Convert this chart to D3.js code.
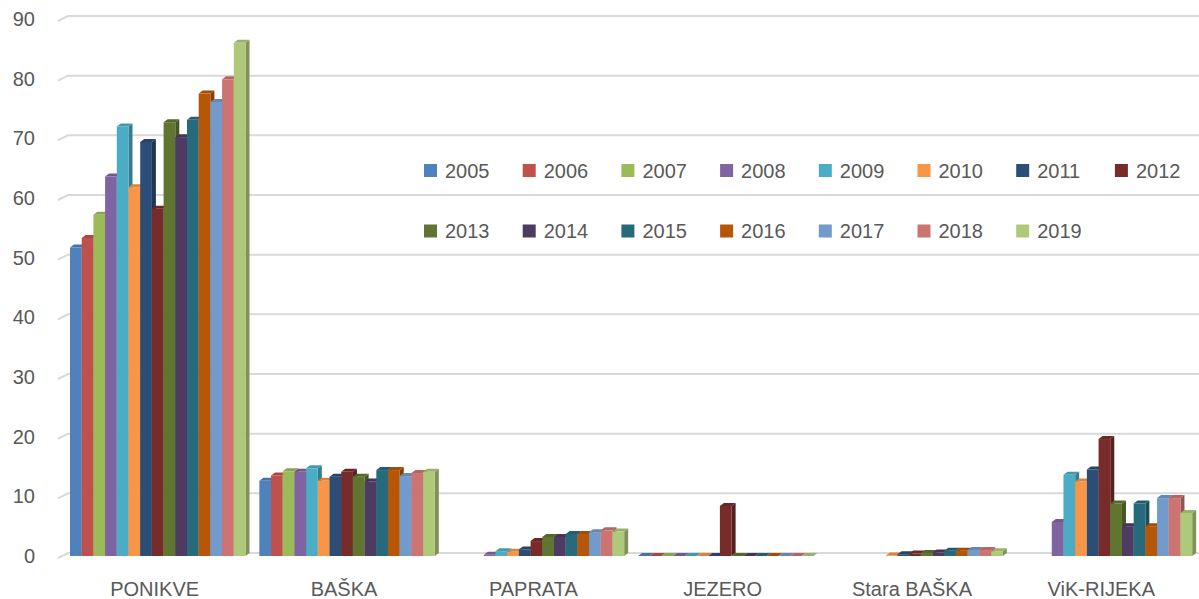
<!DOCTYPE html>
<html>
<head>
<meta charset="utf-8">
<script src="https://cdn.jsdelivr.net/npm/d3@7"></script>
<style>
  body { margin: 0; background: #fff; }
  text { font-family: "Liberation Sans", Arial, sans-serif; fill: #595959; }
</style>
</head>
<body>
<div id="chart"></div>
<script>
var categories = ["PONIKVE", "BAŠKA", "PAPRATA", "JEZERO", "Stara BAŠKA", "ViK-RIJEKA"];
var years = ["2005","2006","2007","2008","2009","2010","2011","2012","2013","2014","2015","2016","2017","2018","2019"];
var colors = ["#4F81BD","#C0504D","#9BBB59","#8064A2","#4BACC6","#F79646","#2C4D75","#772C2A",
              "#5F7530","#4D3B62","#276A7C","#B65708","#729ACA","#CD7371","#AFC97A"];
var yTicks = [0,10,20,30,40,50,60,70,80,90];

// one row per category, one value per year (null = no bar)
var ponikve   = [51.7, 53.3, 57.2, 63.6, 72.0, 61.8, 69.4, 58.2, 72.7, 70.2, 73.1, 77.5, 76.1, 79.9, 86.0];
var baska     = [12.6, 13.5, 14.2, 14.1, 14.7, 12.6, 13.3, 14.1, 13.3, 12.5, 14.4, 14.4, 13.4, 13.9, 14.1];
var paprata   = [null, null, null, 0.2, 0.8, 0.7, 1.1, 2.5, 3.2, 3.2, 3.7, 3.7, 4.0, 4.3, 4.1];
var jezero    = [0, 0, 0, 0, 0, 0, 0, 8.4, 0, 0, 0, 0, 0, 0, 0];
var staraBaska = [null, null, null, null, null, 0.1, 0.3, 0.4, 0.5, 0.6, 0.9, 0.9, 1.0, 1.0, 0.8];
var vikRijeka = [null, null, null, 5.7, 13.6, 12.5, 14.5, 19.6, 8.8, 5.0, 8.8, 5.0, 9.7, 9.7, 7.2];
var values = [ponikve, baska, paprata, jezero, staraBaska, vikRijeka];

var width = 1199, height = 599;
var dx = 4, dy = -3;   // depth of the 3d bars

var svg = d3.select("#chart").append("svg")
    .attr("width", width)
    .attr("height", height);

var y = d3.scaleLinear().domain([0, 90]).range([556, 19]);
var x0 = d3.scaleBand().domain(categories).range([60, 1196]);
var x1 = d3.scaleBand().domain(years).range([10, 185.5]);

// gridlines on the back wall
var grid = svg.append("g");
yTicks.forEach(function(t) {
    var gy = y(t) - 3;
    grid.append("path")
        .attr("d", "M58," + (gy + 5) + "L68," + gy + "L1199," + gy)
        .attr("fill", "none")
        .attr("stroke", "#d9d9d9")
        .attr("stroke-width", 2);
});

// y tick labels
svg.append("g").selectAll("text")
    .data(yTicks)
    .enter().append("text")
    .attr("x", 35)
    .attr("y", function(d) { return y(d); })
    .attr("dy", "0.35em")
    .attr("text-anchor", "end")
    .style("font-size", "20px")
    .text(function(d) { return d; });

// bars
var bars = svg.append("g");
categories.forEach(function(cat, ci) {
    values[ci].forEach(function(v, yi) {
        if (v === null) return;
        var c = colors[yi];
        var bx = x0(cat) + x1(years[yi]);
        var bw = x1.bandwidth();
        var top = y(v), bottom = y(0);
        // side face
        bars.append("path")
            .attr("d", "M" + (bx + bw) + "," + bottom + "L" + (bx + bw + dx) + "," + (bottom + dy) +
                "L" + (bx + bw + dx) + "," + (top + dy) + "L" + (bx + bw) + "," + top + "Z")
            .attr("fill", d3.color(c).darker(0.9));
        // top face
        bars.append("path")
            .attr("d", "M" + bx + "," + top + "L" + (bx + dx) + "," + (top + dy) +
                "L" + (bx + bw + dx) + "," + (top + dy) + "L" + (bx + bw) + "," + top + "Z")
            .attr("fill", d3.color(c).darker(0.35));
        // front face
        bars.append("rect")
            .attr("x", bx)
            .attr("y", top)
            .attr("width", bw)
            .attr("height", bottom - top)
            .attr("fill", c);
    });
});

// category labels
svg.append("g").selectAll("text")
    .data(categories)
    .enter().append("text")
    .attr("x", function(d) { return x0(d) + x0.bandwidth() / 2; })
    .attr("y", 596)
    .attr("text-anchor", "middle")
    .style("font-size", "20px")
    .text(function(d) { return d; });

// legend, two rows
var legend = svg.append("g").selectAll("g")
    .data(years)
    .enter().append("g")
    .attr("transform", function(d, i) {
        var row = Math.floor(i / 8), col = i % 8;
        return "translate(" + (424 + col * 98.7) + "," + (164 + row * 60.5) + ")";
    });
legend.append("rect")
    .attr("width", 13)
    .attr("height", 13)
    .attr("fill", function(d, i) { return colors[i]; });
legend.append("text")
    .attr("x", 21)
    .attr("y", 6.5)
    .attr("dy", "0.35em")
    .style("font-size", "20px")
    .text(function(d) { return d; });
</script>
</body>
</html>
